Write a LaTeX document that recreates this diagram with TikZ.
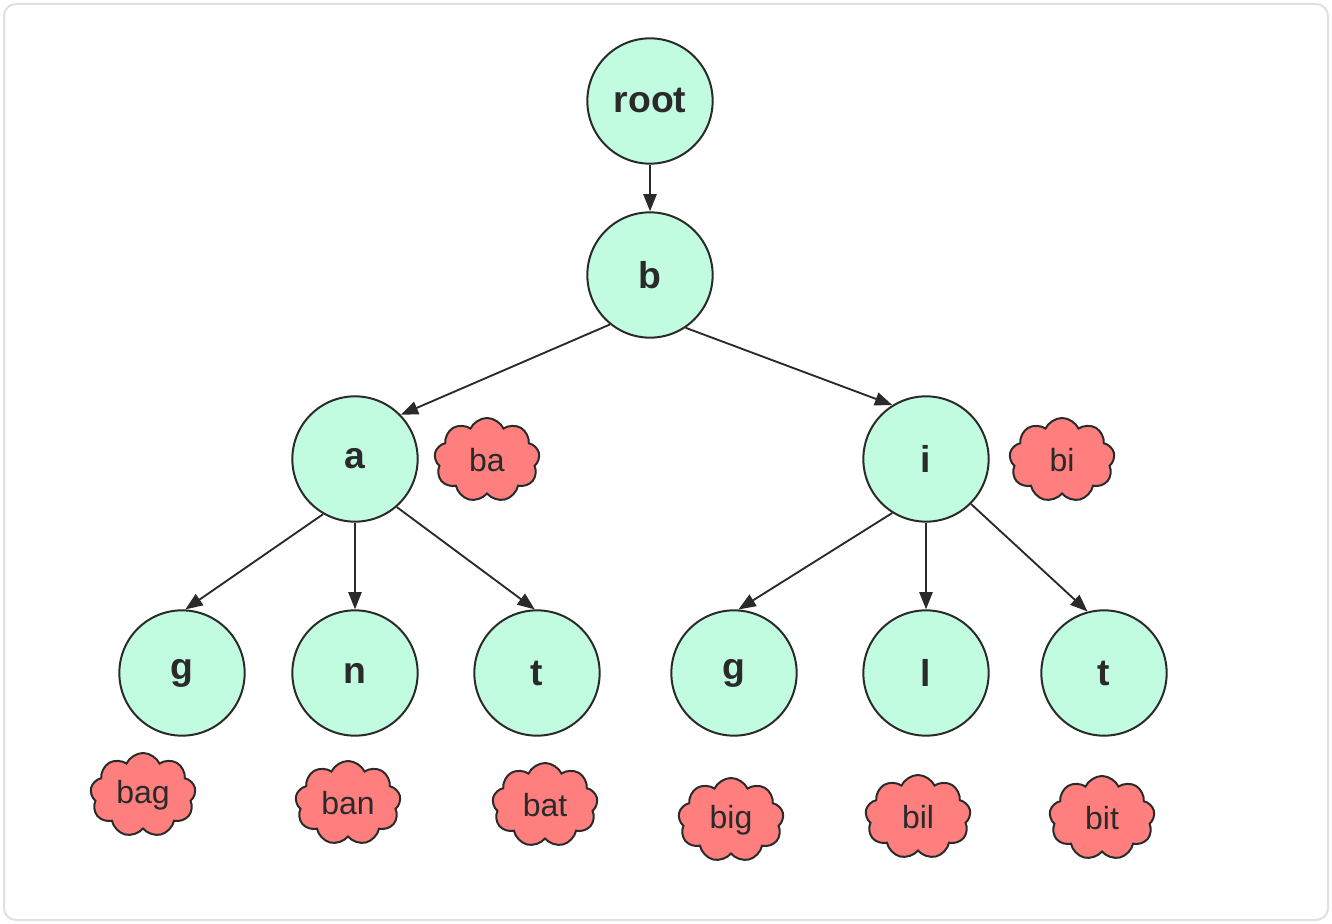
\documentclass[tikz,border=0pt]{standalone}
\usepackage{fontspec}
\setmainfont{Liberation Sans}
\usetikzlibrary{shapes.symbols,arrows.meta}
\definecolor{mint}{HTML}{C2FCE0}
\definecolor{cloudred}{HTML}{FF7F7F}
\definecolor{edge}{HTML}{2A2A2A}
\tikzset{
  tnode/.style={circle,draw=edge,line width=1.5pt,fill=mint,minimum size=94pt,inner sep=0pt,font=\fontsize{28}{32}\selectfont\bfseries,text=edge},
  word/.style={cloud,cloud puffs=9,cloud puff arc=130,aspect=1.25,draw=edge,line width=1.5pt,fill=cloudred,minimum width=79pt,minimum height=63pt,inner sep=0pt,font=\fontsize{24}{28}\selectfont,text=edge},
  link/.style={draw=edge,line width=1.4pt,-{Triangle[length=13pt,width=10pt]}},
}
\begin{document}
\begin{tikzpicture}[x=0.75pt,y=-0.75pt]
\useasboundingbox (0,0) rectangle (1332,924);
\draw[draw=black!12,line width=1.5pt,rounded corners=9pt] (4,4) rectangle (1328,920);
\node[tnode] (root) at (650,101) {root};
\node[tnode] (b) at (650,275) {b};
\node[tnode] (a) at (355,459) {a};
\node[tnode] (i) at (926,459) {i};
\node[tnode] (ag) at (182,673) {g};
\node[tnode] (an) at (355,673) {n};
\node[tnode] (at) at (537,673) {t};
\node[tnode] (ig) at (734,673) {g};
\node[tnode] (il) at (926,673) {l};
\node[tnode] (it) at (1104,673) {t};
\node[word] (ba) at (487,460) {ba};
\node[word] (bi) at (1062,460) {bi};
\node[word] (bag) at (143,795) {bag};
\node[word] (ban) at (348,803) {ban};
\node[word] (bat) at (545,805) {bat};
\node[word] (big) at (731,820) {big};
\node[word] (bil) at (918,817) {bil};
\node[word] (bit) at (1102,818) {bit};
\draw[link] (root) -- (b);
\draw[link] (b.231) -- (a.44);
\draw[link] (b.304) -- (i.122);
\draw[link] (a.240) -- (ag.87);
\draw[link] (a) -- (an);
\draw[link] (a.311) -- (at.92);
\draw[link] (i.238) -- (ig.86);
\draw[link] (i) -- (il);
\draw[link] (i.315) -- (it.105);
\end{tikzpicture}
\end{document}
